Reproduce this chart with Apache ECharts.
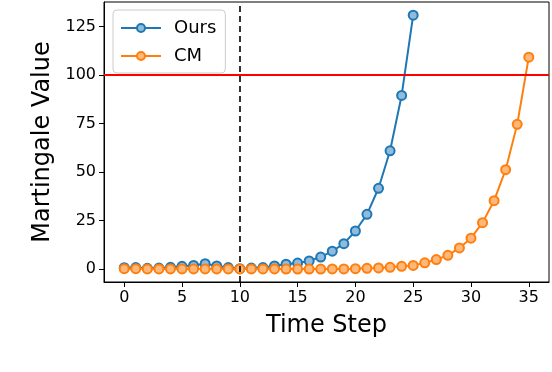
<!DOCTYPE html>
<html>
<head>
<meta charset="utf-8">
<script src="https://cdn.jsdelivr.net/npm/echarts@6/dist/echarts.min.js"></script>
<style>
  html, body { margin: 0; padding: 0; background: #fff; }
  #main { width: 552px; height: 372px; }
</style>
</head>
<body>
<div id="main"></div>
<script>
// time steps and martingale values
var stepsOurs = [0,1,2,3,4,5,6,7,8,9,10,11,12,13,14,15,16,17,18,19,20,21,22,23,24,25];
var valuesOurs = [0.8,0.9,0.5,0.6,1.0,1.5,2.0,2.9,1.7,0.9,0.3,0.6,0.9,1.7,2.6,3.2,4.3,6.3,9.3,13.2,19.7,28.3,41.7,61,89.5,130.8];
var stepsCM = [0,1,2,3,4,5,6,7,8,9,10,11,12,13,14,15,16,17,18,19,20,21,22,23,24,25,26,27,28,29,30,31,32,33,34,35];
var valuesCM = [0.3,0.3,0.2,0.2,0.2,0.2,0.2,0.2,0.2,0.2,0.2,0.2,0.2,0.2,0.1,0.1,0.1,0.1,0.2,0.2,0.3,0.5,0.7,1.0,1.5,2.0,3.3,5.0,7.2,11,16,24,35.3,51.3,74.6,109.2];
var xTicks = [0,5,10,15,20,25,30,35];
var yTicks = [0,25,50,75,100,125];
var threshold = 100;
var changePoint = 10;

var font = 'DejaVu Sans';
var chart = echarts.init(document.getElementById('main'));

function pairs(xs, ys) {
  return xs.map(function (x, i) { return [x, ys[i]]; });
}

var option = {
  animation: false,
  textStyle: { fontFamily: font },
  grid: {
    left: 104, right: 3, top: 2, bottom: 90,
    show: true, borderColor: '#000', borderWidth: 1
  },
  legend: {
    orient: 'vertical',
    left: 113, top: 10,
    padding: [9, 9, 8, 7],
    itemWidth: 40, itemHeight: 10, itemGap: 10,
    backgroundColor: 'rgba(255,255,255,0.8)',
    borderColor: '#ccc', borderWidth: 1, borderRadius: 4,
    textStyle: { fontFamily: font, fontSize: 18, color: '#000', padding: [0, 0, 0, 8] },
    data: ['Ours', 'CM']
  },
  xAxis: {
    type: 'value',
    min: -1.75, max: 36.75,
    name: 'Time Step',
    nameLocation: 'middle', nameGap: 32,
    nameTextStyle: { fontFamily: font, fontSize: 24, color: '#000' },
    splitLine: { show: false },
    axisLine: { onZero: false, lineStyle: { color: '#000', width: 1 } },
    axisTick: { show: true, length: 5, lineStyle: { color: '#000' }, customValues: xTicks },
    axisLabel: { fontFamily: font, fontSize: 16, color: '#000', margin: 8, customValues: xTicks }
  },
  yAxis: {
    type: 'value',
    min: -6.55, max: 137.6,
    name: 'Martingale Value',
    nameLocation: 'middle', nameGap: 47,
    nameTextStyle: { fontFamily: font, fontSize: 24, color: '#000' },
    splitLine: { show: false },
    axisLine: { show: true, onZero: false, lineStyle: { color: '#000', width: 1 } },
    axisTick: { show: true, length: 5, lineStyle: { color: '#000' }, customValues: yTicks },
    axisLabel: { fontFamily: font, fontSize: 16, color: '#000', margin: 8, customValues: yTicks }
  },
  series: [
    {
      name: 'Ours',
      type: 'line',
      data: pairs(stepsOurs, valuesOurs),
      lineStyle: { width: 2, color: '#1f77b4' },
      symbol: 'circle', symbolSize: 9,
      itemStyle: { color: '#8fbbdc', borderColor: '#1f77b4', borderWidth: 2 },
      markLine: {
        silent: true, symbol: 'none', label: { show: false },
        data: [
          { xAxis: changePoint, lineStyle: { color: '#000', type: [6, 4], width: 1.6 } },
          { yAxis: threshold, lineStyle: { color: '#ff0000', type: 'solid', width: 2 } }
        ]
      },
      z: 3
    },
    {
      name: 'CM',
      type: 'line',
      data: pairs(stepsCM, valuesCM),
      lineStyle: { width: 2, color: '#ff7f0e' },
      symbol: 'circle', symbolSize: 9,
      itemStyle: { color: '#ffb87a', borderColor: '#ff7f0e', borderWidth: 2 },
      z: 4
    }
  ]
};
chart.setOption(option);
</script>
</body>
</html>
